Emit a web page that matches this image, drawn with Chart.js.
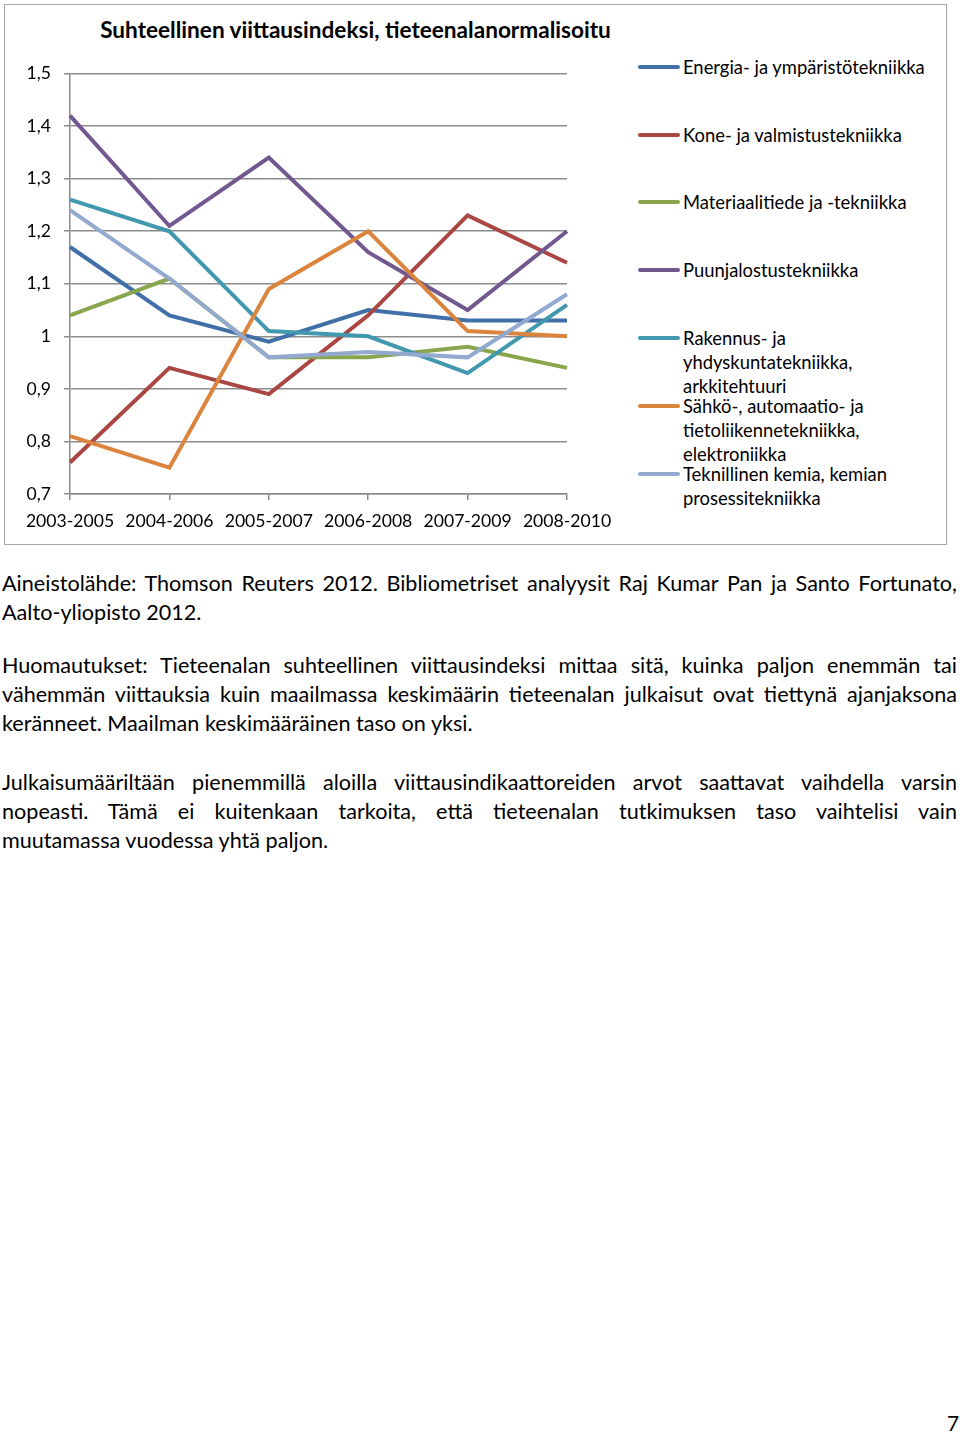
<!DOCTYPE html>
<html>
<head>
<meta charset="utf-8">
<script src="https://cdn.jsdelivr.net/npm/chart.js@4/dist/chart.umd.min.js"></script>
<style>
  html, body { margin: 0; padding: 0; background: #fff; }
  body { width: 960px; height: 1432px; position: relative; font-family: Lato, "Open Sans", sans-serif; color: #000; }
  #box { position: absolute; left: 4px; top: 4px; width: 941px; height: 539px; border: 1.5px solid #a6a6a6; }
  #title { position: absolute; left: 80px; top: 16px; width: 551px; text-align: center; font-weight: bold; font-size: 22.6px; white-space: nowrap; }
  #wrap { position: absolute; left: 4px; top: 50px; width: 620px; height: 490px; }
  #legend { position: absolute; left: 638px; top: 0; width: 310px; }
  .li { position: absolute; left: 0; font-size: 18.4px; line-height: 24px; white-space: nowrap; }
  .li .sw { position: absolute; left: 0; top: 10px; width: 42px; height: 4px; border-radius: 2px; }
  .li .tx { position: absolute; left: 45px; top: 0; }
  .para { position: absolute; left: 2px; width: 955px; font-size: 21.6px; line-height: 29px; }
  .ln { display: block; text-align: justify; text-align-last: justify; white-space: nowrap; }
  .ln.last { text-align-last: left; }
  #pg { position: absolute; left: 947px; top: 1410px; font-size: 21px; }
</style>
</head>
<body>
<div id="box"></div>
<div id="title">Suhteellinen viittausindeksi, tieteenalanormalisoitu</div>
<div id="wrap"><canvas id="c" width="620" height="490"></canvas></div>
<div id="legend"></div>

<div class="para" style="top:569px">
  <span class="ln">Aineistolähde: Thomson Reuters 2012. Bibliometriset analyysit Raj Kumar Pan ja Santo Fortunato,</span>
  <span class="ln last">Aalto-yliopisto 2012.</span>
</div>
<div class="para" style="top:651px">
  <span class="ln">Huomautukset: Tieteenalan suhteellinen viittausindeksi mittaa sitä, kuinka paljon enemmän tai</span>
  <span class="ln">vähemmän viittauksia kuin maailmassa keskimäärin tieteenalan julkaisut ovat tiettynä ajanjaksona</span>
  <span class="ln last">keränneet. Maailman keskimääräinen taso on yksi.</span>
</div>
<div class="para" style="top:768px">
  <span class="ln">Julkaisumääriltään pienemmillä aloilla viittausindikaattoreiden arvot saattavat vaihdella varsin</span>
  <span class="ln">nopeasti. Tämä ei kuitenkaan tarkoita, että tieteenalan tutkimuksen taso vaihtelisi vain</span>
  <span class="ln last">muutamassa vuodessa yhtä paljon.</span>
</div>
<div id="pg">7</div>

<script>
const categories = ["2003-2005", "2004-2006", "2005-2007", "2006-2008", "2007-2009", "2008-2010"];

const energia     = [1.17, 1.04, 0.99, 1.05, 1.03, 1.03];
const kone        = [0.76, 0.94, 0.89, 1.04, 1.23, 1.14];
const materiaali  = [1.04, 1.11, 0.96, 0.96, 0.98, 0.94];
const puunjalostus= [1.42, 1.21, 1.34, 1.16, 1.05, 1.20];
const rakennus    = [1.26, 1.20, 1.01, 1.00, 0.93, 1.06];
const sahko       = [0.81, 0.75, 1.09, 1.20, 1.01, 1.00];
const teknillinen = [1.24, 1.11, 0.96, 0.97, 0.96, 1.08];

const seriesNames = [
  ["Energia- ja ympäristötekniikka"],
  ["Kone- ja valmistustekniikka"],
  ["Materiaalitiede ja -tekniikka"],
  ["Puunjalostustekniikka"],
  ["Rakennus- ja", "yhdyskuntatekniikka,", "arkkitehtuuri"],
  ["Sähkö-, automaatio- ja", "tietoliikennetekniikka,", "elektroniikka"],
  ["Teknillinen kemia, kemian", "prosessitekniikka"]
];
const seriesValues = [energia, kone, materiaali, puunjalostus, rakennus, sahko, teknillinen];
const seriesColors = ["#4170a8", "#aa4643", "#89a54e", "#71588f", "#4198af", "#db843d", "#93a9cf"];

const yMin = 0.7, yMax = 1.5, yStep = 0.1;

// legend (HTML)
const legendTops = [55, 123, 190, 258, 326, 394, 462];
const lg = document.getElementById('legend');
seriesNames.forEach((lines, i) => {
  const d = document.createElement('div');
  d.className = 'li';
  d.style.top = legendTops[i] + 'px';
  const sw = document.createElement('div');
  sw.className = 'sw';
  sw.style.background = seriesColors[i];
  const tx = document.createElement('div');
  tx.className = 'tx';
  tx.innerHTML = lines.join('<br>');
  d.appendChild(sw); d.appendChild(tx);
  lg.appendChild(d);
});

const fmt = v => {
  const r = Math.round(v * 10) / 10;
  return (Number.isInteger(r) ? String(r) : r.toFixed(1)).replace('.', ',');
};

new Chart(document.getElementById('c'), {
  type: 'line',
  data: {
    labels: categories,
    datasets: seriesValues.map((vals, i) => ({
      label: seriesNames[i].join(' '),
      data: vals,
      borderColor: seriesColors[i],
      backgroundColor: seriesColors[i],
      borderWidth: 4,
      pointRadius: 0,
      tension: 0,
      fill: false,
      order: seriesValues.length - i
    }))
  },
  options: {
    responsive: false,
    animation: false,
    layout: { padding: { top: 22, right: 57, left: 0, bottom: 0 } },
    plugins: { legend: { display: false }, title: { display: false }, tooltip: { enabled: false } },
    scales: {
      x: {
        offset: false,
        grid: { display: true, drawOnChartArea: false, drawTicks: true, tickLength: 6, color: '#8c8c8c', lineWidth: 1.5 },
        border: { display: true, color: '#8c8c8c', width: 1.5 },
        ticks: { color: '#000', font: { family: 'Lato', size: 17.6 }, padding: 11, maxRotation: 0, autoSkip: false },
        afterFit: s => { s.height = 46; }
      },
      y: {
        min: yMin, max: yMax,
        grid: { color: '#8c8c8c', lineWidth: 1.5, tickLength: 6, drawTicks: true },
        border: { display: true, color: '#8c8c8c', width: 1.5 },
        ticks: { stepSize: yStep, color: '#000', font: { family: 'Lato', size: 17.6 }, padding: 13, callback: v => fmt(v) },
        afterFit: s => { s.width = 66; }
      }
    }
  }
});
</script>
</body>
</html>
